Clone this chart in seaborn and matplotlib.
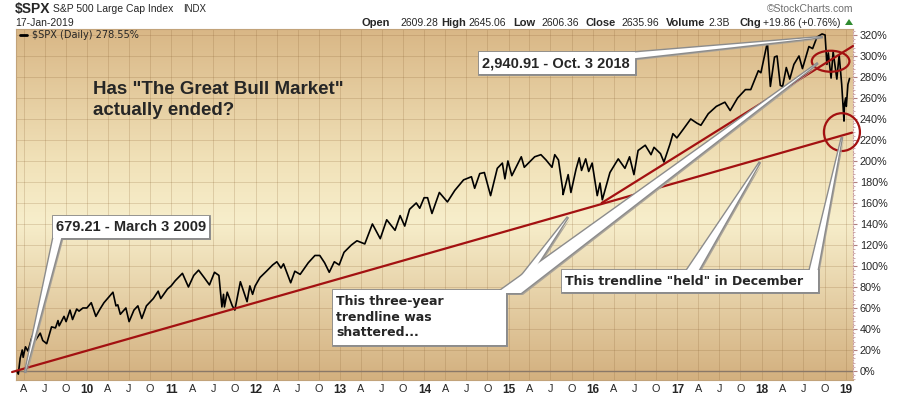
import numpy as np
import pandas as pd
import matplotlib
matplotlib.use("Agg")
import matplotlib.pyplot as plt
import matplotlib.dates as mdates
from matplotlib.patches import Ellipse, Polygon
from matplotlib.colors import LinearSegmentedColormap
import seaborn as sns

# $SPX % change since the 2009-03-03 close
spx_dates = [
    "2009-03-03", "2009-03-09", "2009-03-17", "2009-03-26", "2009-03-30", "2009-04-09", "2009-04-20",
    "2009-05-08", "2009-05-15", "2009-06-12", "2009-06-23", "2009-07-10", "2009-07-31", "2009-08-17",
    "2009-08-28", "2009-09-02", "2009-09-23", "2009-10-02", "2009-10-19", "2009-10-30", "2009-11-17",
    "2009-11-27", "2009-12-14", "2009-12-31",
    "2010-01-19", "2010-02-08", "2010-02-26", "2010-03-15", "2010-04-23", "2010-05-06", "2010-05-14",
    "2010-05-25", "2010-06-18", "2010-07-02", "2010-07-23", "2010-08-09", "2010-08-26", "2010-09-15",
    "2010-10-15", "2010-11-05", "2010-11-16", "2010-12-15", "2010-12-31",
    "2011-01-18", "2011-02-18", "2011-03-16", "2011-04-08", "2011-04-29", "2011-05-23", "2011-06-15",
    "2011-07-07", "2011-07-26", "2011-08-08", "2011-08-15", "2011-08-19", "2011-08-31", "2011-09-22",
    "2011-10-03", "2011-10-27", "2011-11-25", "2011-12-07", "2011-12-19", "2011-12-30",
    "2012-01-20", "2012-02-17", "2012-03-15", "2012-04-02", "2012-04-20", "2012-05-01", "2012-06-01",
    "2012-06-19", "2012-07-12", "2012-08-16", "2012-09-14", "2012-10-05", "2012-10-26", "2012-11-15",
    "2012-12-07", "2012-12-28",
    "2013-01-18", "2013-02-19", "2013-03-15", "2013-04-18", "2013-05-21", "2013-06-24", "2013-07-22",
    "2013-08-27", "2013-09-18", "2013-10-08", "2013-10-29", "2013-11-27", "2013-12-12", "2013-12-31",
    "2014-01-15", "2014-02-03", "2014-03-07", "2014-04-11", "2014-05-13", "2014-06-20", "2014-07-24",
    "2014-08-07", "2014-08-29", "2014-09-18", "2014-10-15", "2014-11-13", "2014-12-05", "2014-12-16",
    "2014-12-29",
    "2015-01-15", "2015-02-25", "2015-03-10", "2015-04-24", "2015-05-21", "2015-06-12", "2015-07-08",
    "2015-07-20", "2015-08-05", "2015-08-24", "2015-08-25", "2015-09-16", "2015-09-28", "2015-10-20",
    "2015-11-03", "2015-11-13", "2015-12-01", "2015-12-14", "2015-12-29",
    "2016-01-20", "2016-02-01", "2016-02-11", "2016-03-15", "2016-04-20", "2016-05-19", "2016-06-08",
    "2016-06-27", "2016-07-15", "2016-08-15", "2016-09-09", "2016-09-22", "2016-10-20", "2016-11-04",
    "2016-11-30", "2016-12-13", "2016-12-30",
    "2017-01-26", "2017-02-28", "2017-03-27", "2017-04-13", "2017-05-15", "2017-06-19", "2017-07-26",
    "2017-08-18", "2017-09-19", "2017-10-23", "2017-11-15", "2017-12-18", "2017-12-29",
    "2018-01-26", "2018-02-08", "2018-02-26", "2018-03-09", "2018-03-23", "2018-04-02", "2018-04-18",
    "2018-05-03", "2018-05-21", "2018-06-12", "2018-06-27", "2018-07-25", "2018-08-10", "2018-08-29",
    "2018-09-20", "2018-10-03", "2018-10-11", "2018-10-17", "2018-10-29", "2018-11-07", "2018-11-23",
    "2018-12-03", "2018-12-14", "2018-12-24", "2018-12-26", "2018-12-31",
    "2019-01-03", "2019-01-10", "2019-01-17",
]
spx_pct = [
    0, -3, 12, 20, 13, 23, 19, 33, 27, 36, 29, 26, 42, 41, 48, 43, 52, 47, 58, 49, 59, 57, 60, 60,
    65, 52, 59, 65, 75, 62, 63, 54, 60, 47, 58, 62, 50, 62, 69, 76, 69, 78, 81,
    86, 93, 80, 91, 96, 89, 82, 94, 91, 61, 73, 61, 75, 62, 58, 85, 66, 81, 73, 81,
    89, 95, 101, 104, 98, 102, 84, 95, 92, 103, 110, 110, 103, 94, 104, 101,
    113, 120, 124, 121, 140, 126, 144, 134, 148, 138, 154, 160, 155, 165,
    165, 150, 170, 161, 172, 182, 185, 174, 188, 189, 167, 193, 198, 183, 200,
    186, 204, 194, 204, 206, 201, 194, 206, 201, 172, 168, 187, 170, 192, 203, 191, 202, 190, 198,
    167, 179, 163, 189, 202, 193, 204, 187, 210, 215, 206, 213, 207, 199, 216, 226, 222,
    230, 240, 236, 234, 245, 252, 256, 248, 260, 268, 268, 286, 284,
    313, 271, 299, 300, 272, 271, 289, 278, 292, 300, 288, 309, 307, 318, 321, 320, 292, 303,
    279, 304, 278, 301, 273, 238, 254, 260,
    252, 273, 278.55,
]

# hand-drawn trendlines and rings
trend_long_dates = ["2009-02-10", "2019-01-28"]
trend_long_pct = [-1, 227]
trend_short_dates = ["2016-02-08", "2019-02-01"]
trend_short_pct = [160, 309.5]
ring_dates = ["2018-10-27", "2018-12-15"]
ring_pct = [295, 227.5]
ring_width_days = [163, 156]
ring_height_pct = [20, 36]

y_ticks = list(range(0, 321, 20))
month_letters = {4: "A", 7: "J", 10: "O"}

quote_labels = ["Open", "High", "Low", "Close", "Volume", "Chg"]
quote_values = ["2609.28", "2645.06", "2606.36", "2635.96", "2.3B", "+19.86 (+0.76%)"]

RED = "#a31111"
W, H = 900, 396

sns.set_style("white")
plt.rcParams["font.family"] = ["Liberation Sans", "DejaVu Sans"]

fig = plt.figure(figsize=(W / 100, H / 100), dpi=100)
rect = [16 / W, 16 / H, (853 - 16) / W, (380 - 29) / H]

# tan/cream gradient behind the plot
bg = fig.add_axes(rect, zorder=0)
cmap = LinearSegmentedColormap.from_list(
    "sc", [(0, "#d3b07f"), (0.45, "#f7eecb"), (0.62, "#f1e2b9"), (1, "#d9b786")])
bg.imshow(np.linspace(0, 1, 256).reshape(-1, 1), cmap=cmap, origin="lower",
          aspect="auto", extent=[0, 1, 0, 1])
bg.set_axis_off()

ax = fig.add_axes(rect, zorder=1)
ax.patch.set_alpha(0)

df = pd.DataFrame({"date": pd.to_datetime(spx_dates), "pct": spx_pct})
sns.lineplot(data=df, x="date", y="pct", ax=ax, color="black", lw=1.2, zorder=3)

ax.plot(pd.to_datetime(trend_long_dates), trend_long_pct, color=RED, lw=1.6, zorder=4, clip_on=False)
ax.plot(pd.to_datetime(trend_short_dates), trend_short_pct, color=RED, lw=1.6, zorder=4, clip_on=False)
for d, p, w, h in zip(ring_dates, ring_pct, ring_width_days, ring_height_pct):
    ax.add_patch(Ellipse((mdates.date2num(pd.Timestamp(d)), p), w, h, fill=False,
                         ec=RED, lw=1.6, zorder=4, clip_on=False))

ax.axhline(0, color="#8a7868", lw=1.0, zorder=2)

ax.set_xlim(pd.Timestamp("2009-02-27"), pd.Timestamp("2019-02-01"))
ax.set_ylim(-8.6, 325.7)

qticks = pd.date_range("2009-04-01", "2019-01-01", freq="QS-JAN")
qlabels = [f"{t.year % 100:02d}" if t.month == 1 else month_letters[t.month] for t in qticks]
ax.set_xticks(qticks)
ax.set_xticklabels(qlabels)
ax.tick_params(axis="x", length=0, pad=3, labelsize=7.8)
for lab, t in zip(ax.get_xticklabels(), qticks):
    if t.month == 1:
        lab.set_fontweight("bold")
        lab.set_fontsize(8.5)

ax.yaxis.tick_right()
ax.set_yticks(y_ticks)
ax.set_yticklabels([f"{v}%" for v in y_ticks])
ax.set_yticks(np.arange(-8, 326, 4), minor=True)
ax.tick_params(axis="y", which="major", length=3, pad=2, labelsize=7.8, color="#b08080")
ax.tick_params(axis="y", which="minor", right=True, length=1.5, color="#c9a0a0")
ax.set_xlabel("")
ax.set_ylabel("")

ax.grid(True, which="major", color="#8a6234", alpha=0.22, lw=0.7)
ax.set_axisbelow(True)
for side, sp in ax.spines.items():
    sp.set_visible(True)
    sp.set_color("#c2a37a")
    sp.set_linewidth(0.8)
ax.spines["right"].set_color("#c9a0a0")
ax.spines["right"].set_linestyle((0, (1, 1.5)))

# overlay in pixel coordinates for header text and callouts
ov = fig.add_axes([0, 0, 1, 1], zorder=5)
ov.set_xlim(0, W)
ov.set_ylim(H, 0)
ov.set_axis_off()
ov.patch.set_alpha(0)

ov.text(15, 9, "$SPX", fontsize=10, fontweight="bold", va="center")
ov.text(53, 9.5, "S&P 500 Large Cap Index", fontsize=7.5, va="center")
ov.text(183, 9.5, "INDX", fontsize=7, va="center")
ov.text(15, 22.5, "17-Jan-2019", fontsize=7.5, va="center")
ov.text(853, 9, "\u00a9StockCharts.com", fontsize=7.5, color="#6e6e6e", va="center", ha="right")

label_x = [362, 441.7, 513, 586, 666, 739]
value_x = [400, 468, 541, 621, 708, 763]
for lx, vx, lab, val in zip(label_x, value_x, quote_labels, quote_values):
    ov.text(lx, 22.5, lab, fontsize=8, fontweight="bold", va="center")
    ov.text(vx, 22.5, val, fontsize=7.5, va="center")
ov.add_patch(Polygon([(845, 25), (853, 25), (849, 19)], closed=True, fc="#2f8a2f", ec="none"))

ov.plot([20, 27], [35, 35], color="black", lw=2)
ov.text(32, 35, "$SPX (Daily) 278.55%", fontsize=7, family="DejaVu Sans", va="center")

ov.text(93, 89.5, "Has \"The Great Bull Market\"", fontsize=13.5, fontweight="bold", va="center")
ov.text(93, 110.5, "actually ended?", fontsize=13.5, fontweight="bold", va="center")


def callout(box, wedges):
    x0, y0, x1, y1 = box
    shapes = [[(x0, y0), (x1, y0), (x1, y1), (x0, y1)]] + wedges
    for s in shapes:
        ov.add_patch(Polygon([(x + 2, y + 2) for x, y in s], closed=True, fc="#aaa49a", ec="none"))
    for s in shapes:
        ov.add_patch(Polygon(s, closed=True, fc="white", ec="#8c8c8c", lw=2, joinstyle="miter"))
    for s in shapes:
        ov.add_patch(Polygon(s, closed=True, fc="white", ec="none"))


callout((53, 216, 209, 238), [[(54, 235), (62, 235), (25, 373)]])
ov.text(56, 227, "679.21 - March 3 2009", fontsize=10.5, fontweight="bold", va="center")

callout((479, 52, 635, 74), [[(632, 52.7), (632, 58.5), (823, 37)]])
ov.text(482, 63.5, "2,940.91 - Oct. 3 2018", fontsize=10.5, fontweight="bold", va="center")

callout((333, 290, 506, 345), [[(497, 293), (521, 293), (818, 63)], [(508, 293), (519, 293), (568, 217)]])
for i, line in enumerate(["This three-year", "trendline was", "shattered..."]):
    ov.text(336, 302 + 15.5 * i, line, fontsize=9, fontweight="bold", family="DejaVu Sans", va="center")

callout((562, 270, 818, 292), [[(685, 273), (697, 273), (760, 162)], [(809, 273), (817, 273), (842, 137)]])
ov.text(565, 281.5, "This trendline \"held\" in December", fontsize=9, fontweight="bold",
        family="DejaVu Sans", va="center")

fig.savefig("out.png", dpi=100, facecolor="white")
